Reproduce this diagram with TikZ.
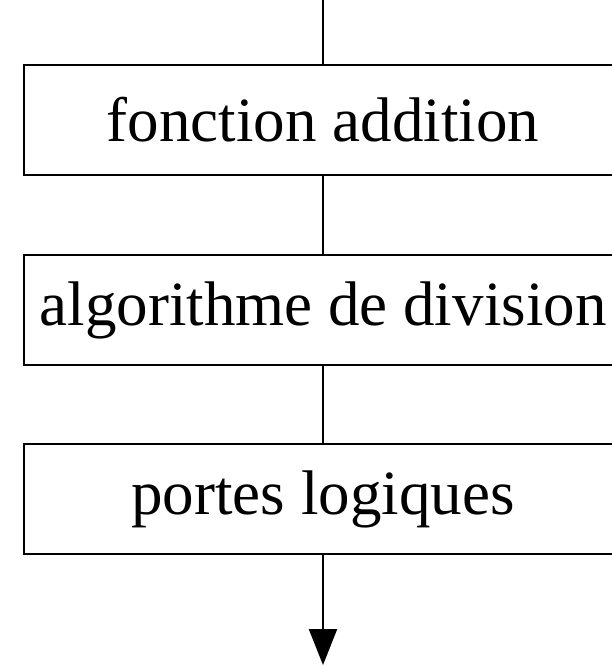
\documentclass[tikz,border=0pt]{standalone}
\usepackage{fontspec}
\setmainfont{Liberation Serif}
\usetikzlibrary{arrows.meta}
\begin{document}
\begin{tikzpicture}[x=1pt,y=1pt,
    blk/.style={draw, line width=2.4pt, minimum width=598pt, minimum height=110pt,
        inner sep=0pt, font=\fontsize{63}{70}\selectfont},
    conn/.style={line width=2.4pt}]
    % cadre de l'image
    \useasboundingbox (0,0) rectangle (612,-665);

    % les trois blocs
    \node[blk] (fonc) at (323,-120) {fonction addition};
    \node[blk] (algo) at (323,-310) {algorithme de division};
    \node[blk] (portes) at (323,-499) {portes logiques};

    % entree et sortie
    \coordinate (haut) at (323,0);
    \coordinate (bas) at (323,-665);

    % liaisons
    \draw[conn] (haut) -- (fonc);
    \draw[conn] (fonc) -- (algo);
    \draw[conn] (algo) -- (portes);
    \draw[conn, -{Triangle[length=36pt,width=28pt]}] (portes) -- (bas);
\end{tikzpicture}
\end{document}
